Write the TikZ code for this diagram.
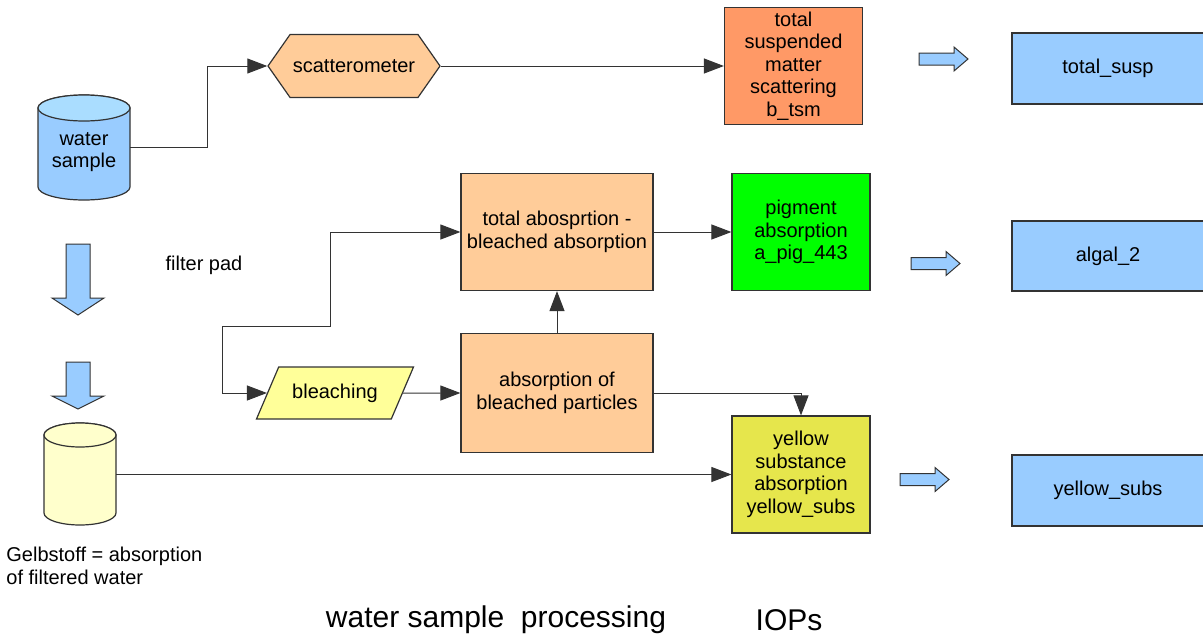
\documentclass[tikz,border=0pt]{standalone}
\usepackage{fontspec}
\setmainfont{Liberation Sans}
\usetikzlibrary{shapes,arrows.meta}

\definecolor{iopblue}{RGB}{153,204,255}
\definecolor{tanktop}{RGB}{170,221,255}
\definecolor{lightorange}{RGB}{255,204,153}
\definecolor{tsmorange}{RGB}{255,153,102}
\definecolor{piggreen}{RGB}{0,255,0}
\definecolor{subsyellow}{RGB}{230,230,76}
\definecolor{bleachyellow}{RGB}{255,255,153}
\definecolor{gelbyellow}{RGB}{255,255,204}

\begin{document}
\begin{tikzpicture}[x=0.5pt,y=-0.5pt,>={Triangle[length=10pt,width=7.5pt]},
                    every node/.style={font=\fontsize{10}{11.3}\selectfont,align=center,inner sep=1pt},
                    line/.style={draw=black!80,line width=0.5pt},
                    main box/.style={rectangle,draw=black!80,line width=0.6pt,minimum width=69pt,minimum height=58.5pt},
                    wide box/.style={rectangle,draw=black!80,line width=0.6pt,fill=iopblue,minimum width=96pt,minimum height=35.5pt},
                    tank/.style={draw=black!80,line width=0.6pt},
                    fat arrow/.style={draw=black!80,line width=0.5pt,fill=iopblue}]

  \useasboundingbox (0,0) rectangle (1203,637);

  % the two tanks
  \draw[tank,fill=iopblue] (38,108) -- (38,187) arc[start angle=180,end angle=360,x radius=23pt,y radius=6.5pt]
        -- (130,108) arc[start angle=0,end angle=180,x radius=23pt,y radius=6.5pt] -- cycle;
  \draw[tank,fill=tanktop] (84,108) ellipse[x radius=23pt,y radius=6.5pt];
  \draw[tank,fill=gelbyellow] (44,435) -- (44,513) arc[start angle=180,end angle=360,x radius=18pt,y radius=6pt]
        -- (116,435) arc[start angle=0,end angle=180,x radius=18pt,y radius=6pt] -- cycle;
  \draw[tank,fill=gelbyellow] (80,435) ellipse[x radius=18pt,y radius=6pt];

  % sample and scattering branch
  \node[minimum width=46pt,minimum height=48pt] (sample) at (84,152) {water\\sample};
  \node[signal,signal to=west and east,signal pointer angle=110,draw=black!80,line width=0.6pt,fill=lightorange,minimum width=86pt,minimum height=31.5pt] (scat) at (354,66) {scatterometer};
  \node[main box,fill=tsmorange] (tsm) at (793.5,66) {total\\suspended\\matter\\scattering\\b\_tsm};
  \node[wide box] (susp) at (1108,68.5) {total\_susp};

  % filter pad branch
  \node (pad text) at (204,265) {filter pad};
  \node[main box,fill=lightorange,minimum width=96pt] (tot) at (557,232) {total abosprtion -\\bleached absorption};
  \node[main box,fill=piggreen] (pig) at (801,232) {pigment\\absorption\\a\_pig\_443};
  \node[wide box,minimum height=35pt] (algal) at (1108,256) {algal\_2};
  \node[trapezium,trapezium stretches=true,trapezium left angle=52,trapezium right angle=128,draw=black!80,line width=0.6pt,fill=bleachyellow,minimum width=79pt,minimum height=26pt] (bleach) at (335,393) {bleaching};
  \node[main box,fill=lightorange,minimum width=96pt,minimum height=59.5pt] (bleached) at (557,393) {absorption of\\bleached particles};

  % filtered water branch
  \node[minimum width=36pt,minimum height=51pt] (gelb) at (80,474.5) {};
  \node[anchor=west,align=left] (gelb text) at (4,566) {Gelbstoff = absorption\\of filtered water};
  \node[main box,fill=subsyellow] (yellow) at (801,474.5) {yellow\\substance\\absorption\\yellow\_subs};
  \node[wide box] (subs) at (1108,490.5) {yellow\_subs};

  % captions
  \node[font=\fontsize{15}{18}\selectfont] (title) at (496,620) {water sample\ \ processing};
  \node[font=\fontsize{15}{18}\selectfont] (iops) at (789,620) {IOPs};

  \coordinate (pad) at (222,326);
  \coordinate (pad up) at (330,326);

  \draw[line,->] ([yshift=2.25pt]sample.east) -- ++(77,0) |- (scat.west);
  \draw[line,->] (scat.east) -- (tsm.west);
  \draw[line,->] (tot.east) -- (pig.west);
  \draw[line,->] (pad) |- (bleach.west);
  \draw[line,->] (pad) -- (pad up) |- (tot.west);
  \draw[line,->] (bleach.east) -- (bleached.west);
  \draw[line,->] (bleached.north) -- (tot.south);
  \draw[line,->] (bleached.east) -| (yellow.north);
  \draw[line,->] (gelb.east) -- (yellow.west);

  % big blue arrows
  \foreach \x/\y in {919/59, 911/263.5, 900/479.5}
    \draw[fat arrow] (\x,\y-6) -- (\x+35,\y-6) -- (\x+35,\y-12) -- (\x+49,\y)
                     -- (\x+35,\y+12) -- (\x+35,\y+6) -- (\x,\y+6) -- cycle;
  \foreach \t/\h/\e in {244/298/315, 362/396/409}
    \draw[fat arrow] (66,\t) -- (66,\h) -- (52,\h) -- (78,\e) -- (104,\h)
                     -- (90,\h) -- (90,\t) -- cycle;

\end{tikzpicture}
\end{document}
